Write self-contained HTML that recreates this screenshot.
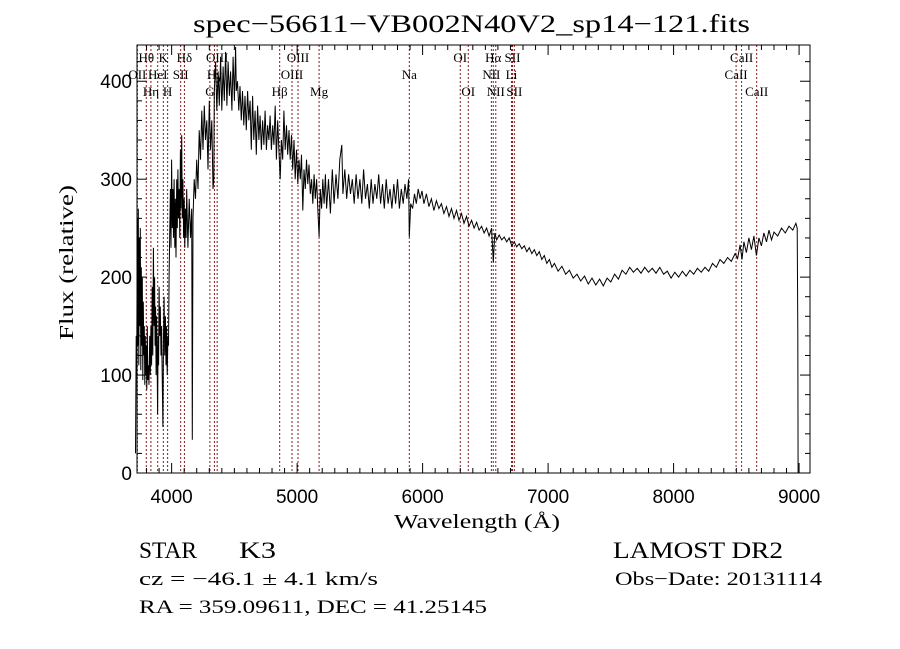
<!DOCTYPE html>
<html><head><meta charset="utf-8"><style>
html,body{margin:0;padding:0;background:#fff;width:900px;height:649px;overflow:hidden}
svg{display:block}
text{fill:#000}
.serif{font-family:"Liberation Serif",serif}
.sans{font-family:"Liberation Sans",sans-serif}
</style></head><body>
<svg id="chart" width="900" height="649" viewBox="0 0 900 649" xmlns="http://www.w3.org/2000/svg">
<text class="serif" x="193" y="32" font-size="25" textLength="557" lengthAdjust="spacingAndGlyphs">spec−56611−VB002N40V2_sp14−121.fits</text>
<g id="lines"></g>
<g id="labels"></g>
<path id="spec" fill="none" stroke="#000" stroke-width="1"/>
<rect x="137" y="45" width="673" height="428" fill="none" stroke="#000" stroke-width="1"/>
<g id="ticks"></g>
<g id="xlabels"></g>
<g id="ylabels"></g>
<text class="serif" x="394" y="528" font-size="20" textLength="166" lengthAdjust="spacingAndGlyphs">Wavelength (Å)</text>
<text class="serif" font-size="20" transform="translate(73,340) rotate(-90)" textLength="155" lengthAdjust="spacingAndGlyphs">Flux (relative)</text>
<text class="serif" x="139" y="558" font-size="23" textLength="58" lengthAdjust="spacingAndGlyphs">STAR</text>
<text class="serif" x="239" y="558" font-size="23" textLength="37" lengthAdjust="spacingAndGlyphs">K3</text>
<text class="serif" x="613" y="558" font-size="23" textLength="170" lengthAdjust="spacingAndGlyphs">LAMOST DR2</text>
<text class="serif" x="139" y="585" font-size="19" textLength="239" lengthAdjust="spacingAndGlyphs">cz = −46.1 ± 4.1 km/s</text>
<text class="serif" x="615" y="585" font-size="19" textLength="207" lengthAdjust="spacingAndGlyphs">Obs−Date: 20131114</text>
<text class="serif" x="139" y="613" font-size="19" textLength="348" lengthAdjust="spacingAndGlyphs">RA = 359.09611, DEC =  41.25145</text>
</svg>
<script>
const wavelengths=[3712,3718,3722,3726,3730,3734,3738,3742,3746,3750,3754,3758,3762,3766,3770,3774,3778,3782,3786,3790,3794,3798,3802,3806,3810,3815,3820,3825,3830,3835,3840,3845,3850,3855,3860,3864,3868,3872,3876,3880,3884,3888,3892,3896,3900,3905,3910,3915,3920,3925,3930,3935,3940,3945,3950,3955,3960,3965,3970,3975,3980,3985,3990,3995,4000,4005,4010,4015,4020,4025,4030,4035,4040,4045,4050,4055,4060,4065,4070,4075,4080,4085,4090,4095,4100,4105,4110,4115,4120,4130,4140,4150,4160,4165,4170,4180,4190,4200,4210,4220,4230,4240,4250,4260,4270,4280,4290,4300,4310,4320,4330,4336,4340,4350,4360,4370,4380,4390,4400,4410,4420,4430,4440,4450,4460,4470,4480,4490,4500,4510,4515,4525,4535,4545,4555,4565,4575,4585,4595,4605,4615,4625,4635,4645,4655,4665,4675,4685,4695,4705,4715,4725,4735,4745,4755,4765,4775,4785,4795,4805,4815,4825,4835,4845,4855,4865,4875,4885,4895,4905,4915,4925,4935,4945,4955,4965,4975,4985,4995,5005,5015,5025,5035,5045,5055,5065,5075,5085,5095,5105,5115,5125,5135,5145,5155,5165,5175,5185,5195,5205,5215,5225,5235,5250,5265,5280,5295,5310,5325,5340,5356,5365,5380,5395,5410,5425,5440,5455,5470,5485,5500,5515,5530,5545,5560,5575,5590,5605,5620,5635,5650,5665,5680,5695,5710,5725,5740,5755,5770,5785,5800,5815,5830,5845,5860,5875,5888,5894,5905,5920,5935,5950,5965,5980,5995,6010,6030,6050,6070,6090,6110,6130,6150,6170,6190,6210,6230,6250,6270,6290,6310,6330,6350,6370,6390,6410,6430,6450,6470,6490,6510,6530,6550,6563,6575,6590,6610,6630,6650,6670,6690,6710,6730,6750,6770,6790,6810,6830,6850,6870,6890,6910,6930,6950,6970,6990,7010,7030,7050,7080,7110,7140,7170,7200,7230,7260,7290,7320,7350,7380,7410,7440,7470,7500,7530,7560,7590,7620,7650,7680,7710,7740,7770,7800,7830,7860,7890,7920,7950,7980,8010,8040,8070,8100,8130,8160,8190,8220,8250,8280,8310,8340,8370,8400,8430,8460,8490,8510,8530,8545,8560,8580,8600,8620,8640,8660,8680,8700,8720,8740,8760,8780,8800,8830,8860,8890,8920,8950,8975,8985,8990,8992];
const fluxValues=[20,140,100,260,130,270,110,240,150,250,105,210,130,200,95,175,120,150,90,140,100,130,85,150,95,110,90,140,100,150,110,190,120,230,150,200,130,170,100,160,120,60,140,110,190,140,170,120,150,100,47,140,180,120,160,110,150,100,140,130,200,250,290,230,320,250,290,240,300,230,280,220,300,250,310,260,290,240,330,270,345,260,300,240,280,230,270,240,290,230,280,240,270,34,260,300,280,320,290,350,320,370,330,375,340,360,310,380,330,360,290,300,390,420,370,410,375,425,370,415,380,430,375,420,385,410,370,425,380,435,390,400,370,395,360,390,355,385,350,390,360,380,330,385,340,370,325,375,340,365,330,360,335,370,330,355,340,365,330,355,335,375,320,360,330,300,340,320,370,330,355,325,350,320,345,310,340,300,330,295,320,300,325,268,310,290,320,295,315,285,300,275,305,280,300,270,241,290,270,300,275,305,270,300,265,310,275,305,280,320,335,285,310,280,305,285,300,275,305,280,300,275,310,280,295,270,300,275,295,280,305,275,295,270,300,275,290,270,295,275,300,270,290,275,295,280,300,241,275,270,285,275,290,280,288,275,285,272,280,268,278,270,275,265,272,262,270,260,268,258,265,255,262,252,258,250,256,248,252,245,250,242,250,215,245,238,243,238,241,236,240,232,236,231,234,229,232,226,230,224,228,222,226,218,222,214,218,210,214,206,211,203,207,199,203,196,201,193,199,192,198,191,199,195,203,198,207,203,210,205,209,204,210,205,209,204,210,203,206,199,205,200,206,201,207,203,209,205,210,206,214,210,218,214,220,216,224,219,233,218,236,225,240,228,242,222,240,232,245,236,248,238,246,242,250,245,252,248,255,250,146,0];
const xTickValues=[4000,5000,6000,7000,8000,9000];
const yTickValues=[0,100,200,300,400];
const lineNames=["OII","Hθ","Hη","HeI","K","H","SII","Hδ","G","Hγ","OIII","Hβ","OIII","OIII","Mg","Na","OI","OI","NII","Hα","NII","Li","SII","SII","CaII","CaII","CaII"];
const lineWaves=[3727,3798,3835,3889,3934,3968,4072,4102,4305,4341,4363,4861,4959,5007,5175,5894,6300,6364,6548,6563,6583,6708,6716,6731,8498,8542,8662];
const lineRows=[1,0,2,1,0,2,1,0,2,1,0,2,1,0,2,1,0,2,1,0,2,1,0,2,1,0,2];

const X0=137,X1=810,Y0=473,Y1=45,WMIN=3724,WMAX=9087,FMIN=0,FMAX=437;
const NS="http://www.w3.org/2000/svg";
function xs(w){return X0+(w-WMIN)/(WMAX-WMIN)*(X1-X0);}
function ys(f){return Y0-(f-FMIN)/(FMAX-FMIN)*(Y0-Y1);}
function mk(tag,attrs,parent){const e=document.createElementNS(NS,tag);for(const k in attrs)e.setAttribute(k,attrs[k]);parent.appendChild(e);return e;}

let d="";
for(let i=0;i<wavelengths.length;i++){d+=(i?"L":"M")+xs(wavelengths[i]).toFixed(1)+","+ys(fluxValues[i]).toFixed(1);}
document.getElementById("spec").setAttribute("d",d);

const lg=document.getElementById("lines"),lb=document.getElementById("labels");
const rowY=[62,79,96];
for(let i=0;i<lineWaves.length;i++){
  const x=xs(lineWaves[i]);
  const l=mk("line",{x1:x,x2:x,y1:Y1,y2:Y0,stroke:"#8b1a1a","stroke-width":"1","stroke-dasharray":"2,2"},lg);
  
  
  const t=mk("text",{x:x,y:rowY[lineRows[i]],"text-anchor":"middle","font-size":"13",class:"serif"},lb);
  t.textContent=lineNames[i];
  
  
}

const tg=document.getElementById("ticks"),xl=document.getElementById("xlabels"),yl=document.getElementById("ylabels");
for(let w=3800;w<=9000;w+=100){
  const x=xs(w),maj=(w%1000===0),len=maj?10:5;
  mk("line",{x1:x,x2:x,y1:Y0,y2:Y0-len,stroke:"#000"},tg);
  mk("line",{x1:x,x2:x,y1:Y1,y2:Y1+len,stroke:"#000"},tg);
}
for(let f=0;f<=430;f+=20){
  const y=ys(f),maj=(f%100===0),len=maj?10:5;
  mk("line",{x1:X0,x2:X0+len,y1:y,y2:y,stroke:"#000"},tg);
  mk("line",{x1:X1,x2:X1-len,y1:y,y2:y,stroke:"#000"},tg);
}
xTickValues.forEach(v=>{
  const t=mk("text",{x:xs(v),y:503,"text-anchor":"middle","font-size":"19",class:"sans"},xl);
  t.textContent=v;
  
  
});
yTickValues.forEach(v=>{
  const t=mk("text",{x:132,y:ys(v)+7,"text-anchor":"end","font-size":"19",class:"sans"},yl);
  t.textContent=v;
  
  
});
</script>
</body></html>
